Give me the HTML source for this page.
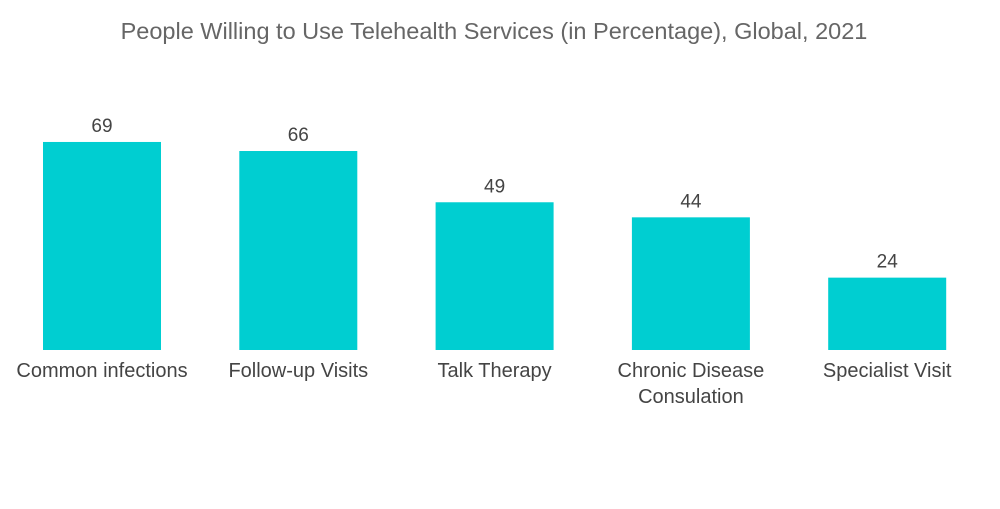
<!DOCTYPE html>
<html><head><meta charset="utf-8"><style>
body{margin:0;background:#fff;width:1000px;height:504px;overflow:hidden;font-family:"Liberation Sans",sans-serif}
</style></head><body>
<svg id="chart" width="1000" height="504" xmlns="http://www.w3.org/2000/svg">
<text x="494" y="39" text-anchor="middle" font-size="23.5" fill="#666">People Willing to Use Telehealth Services (in Percentage), Global, 2021</text>
<g id="bars"></g>
</svg>
<script>
const categories=[["Common infections"],["Follow-up Visits"],["Talk Therapy"],["Chronic Disease","Consulation"],["Specialist Visit"]];
const values=[69,66,49,44,24];
const baseY=350, scale=3.015, x0=43, step=196.3, bw=118;
const yPos=v=>baseY-v*scale;
const g=document.getElementById('bars');
const ns="http://www.w3.org/2000/svg";
values.forEach((v,i)=>{
  const x=x0+i*step;
  const r=document.createElementNS(ns,'rect');
  
  
  r.setAttribute('x',x);r.setAttribute('y',yPos(v));
  r.setAttribute('width',bw);r.setAttribute('height',baseY-yPos(v));
  r.setAttribute('fill','#00ced1');g.appendChild(r);
  const t=document.createElementNS(ns,'text');
  
  
  t.setAttribute('x',x+bw/2);t.setAttribute('y',yPos(v)-10);
  t.setAttribute('text-anchor','middle');t.setAttribute('font-size','19');t.setAttribute('fill','#444');
  t.textContent=v;g.appendChild(t);
  categories[i].forEach((line,j)=>{
    const c=document.createElementNS(ns,'text');
    
    
    c.setAttribute('x',x+bw/2);c.setAttribute('y',377+j*26);
    c.setAttribute('text-anchor','middle');c.setAttribute('font-size','20');c.setAttribute('fill','#444');
    c.textContent=line;g.appendChild(c);
  });
});
</script>
</body></html>
